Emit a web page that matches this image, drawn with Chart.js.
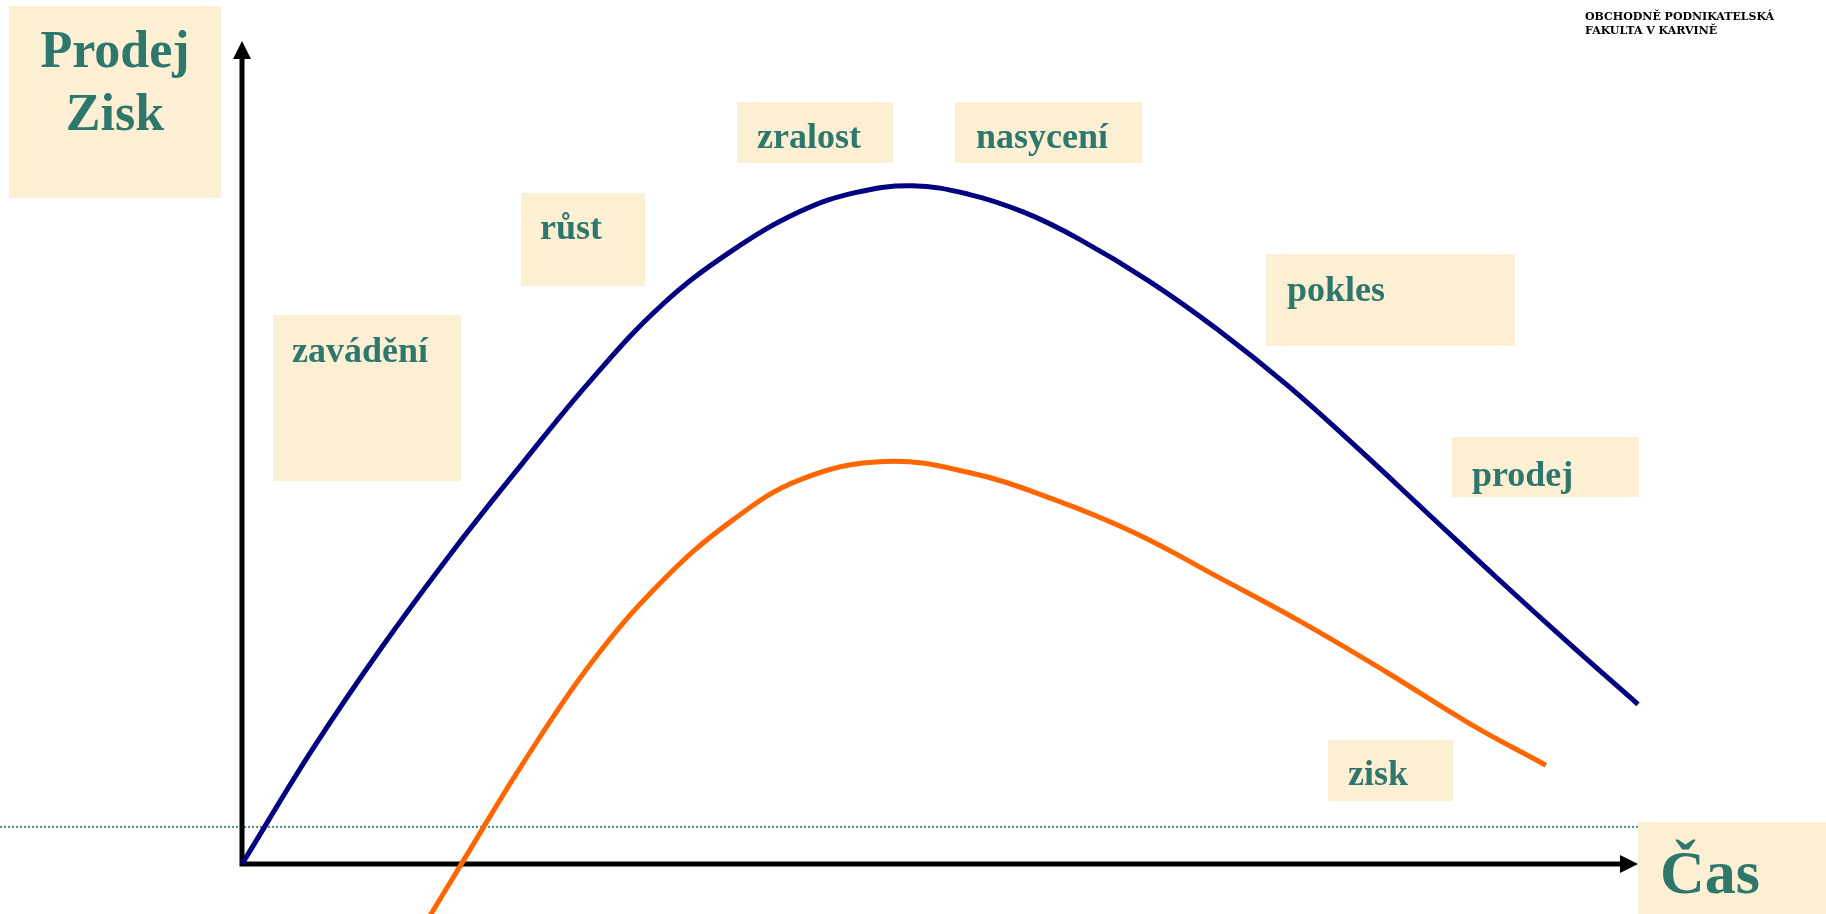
<!DOCTYPE html>
<html>
<head>
<meta charset="utf-8">
<title>Životní cyklus výrobku</title>
<script src="https://cdn.jsdelivr.net/npm/chart.js@4"></script>
<style>
  html, body { margin: 0; padding: 0; background: #fff; }
  #wrap { width: 1826px; height: 914px; position: relative; }
</style>
</head>
<body>
<div id="wrap"><canvas id="cycleChart"></canvas></div>
<script>
// Product life cycle – sales and profit over time

// data (time 0..100, value 0..100)
const salesTime = [0, 5, 10, 15, 20, 25, 30, 35, 40, 44, 48, 52, 56, 60, 65, 70, 75, 80, 85, 90, 95, 100];
const salesValues = [0, 13.8, 26.3, 37.8, 48.5, 58.8, 67.8, 74.4, 79.3, 81.6, 82.4, 81.4, 79.2, 75.9, 70.8, 64.8, 58.0, 50.4, 42.5, 34.6, 26.9, 19.4];

const profitTime = [12, 16, 20, 25, 30, 35, 40, 46, 52, 58, 64, 70, 76, 82, 88, 93.4];
const profitValues = [-10.4, 0.8, 11.9, 24.4, 34.2, 41.6, 46.7, 48.9, 47.6, 44.4, 40.2, 34.8, 29.3, 23.3, 17.0, 12.0];

const stageNames = ['zavádění', 'růst', 'zralost', 'nasycení', 'pokles'];
const seriesNames = ['prodej', 'zisk'];
const yAxisNames = ['Prodej', 'Zisk'];
const xAxisName = 'Čas';
const facultyLines = ['OBCHODNĚ PODNIKATELSKÁ', 'FAKULTA V KARVINĚ'];

const colors = {
  sales: '#000080',
  profit: '#FF6600',
  text: '#2E776D',
  paper: '#FCEFD4',
  dots: '#4A8F86',
  axis: '#000000'
};

// paper note boxes: [left, top, right, bottom], text at [x, baseline]
const notes = [
  { text: stageNames[0], box: [273, 315, 461, 481], at: [292, 362] },
  { text: stageNames[1], box: [521, 193, 645, 286], at: [540, 239] },
  { text: stageNames[2], box: [737, 102, 893, 163], at: [757, 148] },
  { text: stageNames[3], box: [955, 102, 1142, 163], at: [976, 148] },
  { text: stageNames[4], box: [1266, 254, 1515, 346], at: [1287, 301] },
  { text: seriesNames[0], box: [1452, 437, 1639, 497], at: [1472, 486] },
  { text: seriesNames[1], box: [1328, 740, 1453, 801], at: [1348, 785] }
];

const toPoints = (xs, ys) => xs.map((x, i) => ({ x: x, y: ys[i] }));

const decorPlugin = {
  id: 'decor',
  beforeDatasetsDraw(chart) {
    const ctx = chart.ctx;
    const xs = chart.scales.x;
    const ys = chart.scales.y;
    const ox = xs.getPixelForValue(0);
    const oy = ys.getPixelForValue(0);
    const xEnd = xs.getPixelForValue(100);
    const yEnd = ys.getPixelForValue(100);

    ctx.save();

    // y axis title box
    ctx.fillStyle = colors.paper;
    ctx.fillRect(9, 6, 212, 192);
    ctx.fillStyle = colors.text;
    ctx.font = 'bold 52px "Liberation Serif"';
    ctx.textAlign = 'center';
    ctx.fillText(yAxisNames[0], 115, 67);
    ctx.fillText(yAxisNames[1], 115, 130);

    // stage notes
    ctx.textAlign = 'left';
    ctx.font = 'bold 36px "Liberation Serif"';
    notes.forEach(n => {
      const b = n.box;
      ctx.fillStyle = colors.paper;
      ctx.fillRect(b[0], b[1], b[2] - b[0], b[3] - b[1]);
      ctx.fillStyle = colors.text;
      ctx.fillText(n.text, n.at[0], n.at[1]);
    });

    // dotted line
    ctx.strokeStyle = colors.dots;
    ctx.lineWidth = 2;
    ctx.setLineDash([2, 2]);
    ctx.beginPath();
    const dy = ys.getPixelForValue(4.5);
    ctx.moveTo(0, dy);
    ctx.lineTo(xEnd, dy);
    ctx.stroke();
    ctx.setLineDash([]);

    // x axis title box
    ctx.fillStyle = colors.paper;
    ctx.fillRect(1638, 822, 188, 92);
    ctx.fillStyle = colors.text;
    ctx.font = 'bold 62px "Liberation Serif"';
    ctx.fillText(xAxisName, 1660, 893);

    // axes with arrows
    ctx.strokeStyle = colors.axis;
    ctx.fillStyle = colors.axis;
    ctx.lineWidth = 5;
    ctx.beginPath();
    ctx.moveTo(ox, oy + 2.5);
    ctx.lineTo(ox, yEnd + 16);
    ctx.moveTo(ox - 2.5, oy);
    ctx.lineTo(xEnd - 16, oy);
    ctx.stroke();

    ctx.beginPath();
    ctx.moveTo(ox, yEnd);
    ctx.lineTo(ox - 9, yEnd + 18);
    ctx.lineTo(ox + 9, yEnd + 18);
    ctx.closePath();
    ctx.fill();

    ctx.beginPath();
    ctx.moveTo(xEnd, oy);
    ctx.lineTo(xEnd - 18, oy - 9);
    ctx.lineTo(xEnd - 18, oy + 9);
    ctx.closePath();
    ctx.fill();

    // faculty header
    ctx.fillStyle = '#000';
    ctx.font = 'bold 11px "DejaVu Serif"';
    ctx.fillText(facultyLines[0], 1585, 20);
    ctx.fillText(facultyLines[1], 1585, 34);

    ctx.restore();
  }
};

new Chart(document.getElementById('cycleChart').getContext('2d'), {
  type: 'line',
  data: {
    datasets: [
      {
        label: seriesNames[0],
        data: toPoints(salesTime, salesValues),
        borderColor: colors.sales,
        borderWidth: 5,
        pointRadius: 0,
        tension: 0.4,
        fill: false,
        clip: false
      },
      {
        label: seriesNames[1],
        data: toPoints(profitTime, profitValues),
        borderColor: colors.profit,
        borderWidth: 5,
        pointRadius: 0,
        tension: 0.4,
        fill: false,
        clip: false
      }
    ]
  },
  options: {
    responsive: true,
    maintainAspectRatio: false,
    animation: false,
    layout: {
      padding: { left: 242, right: 188, top: 41, bottom: 50 }
    },
    plugins: {
      legend: { display: false },
      tooltip: { enabled: false }
    },
    scales: {
      x: { type: 'linear', min: 0, max: 100, display: false },
      y: { min: 0, max: 100, display: false }
    }
  },
  plugins: [decorPlugin]
});
</script>
</body>
</html>
